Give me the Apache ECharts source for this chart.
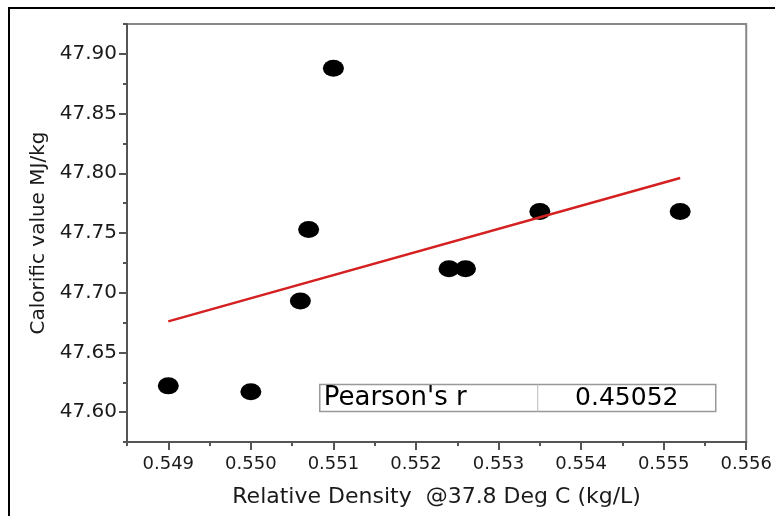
<!DOCTYPE html>
<html>
<head>
<meta charset="utf-8">
<script src="https://cdn.jsdelivr.net/npm/echarts@6/dist/echarts.min.js"></script>
<style>
  html, body { margin: 0; padding: 0; background: #fff; }
  #chart { width: 775px; height: 516px; }
</style>
</head>
<body>
<div id="chart"></div>
<script>
  // data
  var density = [0.549, 0.550, 0.5506, 0.5507, 0.551, 0.5524, 0.5526, 0.5535, 0.5552];
  var calorific = [47.622, 47.617, 47.693, 47.753, 47.888, 47.720, 47.720, 47.768, 47.768];
  var fitX = [0.549, 0.5552];
  var fitY = [47.676, 47.796];
  var xTicks = [0.549, 0.550, 0.551, 0.552, 0.553, 0.554, 0.555, 0.556];
  var xMinorTicks = [0.5485, 0.5495, 0.5505, 0.5515, 0.5525, 0.5535, 0.5545, 0.5555];
  var yTicks = [47.60, 47.65, 47.70, 47.75, 47.80, 47.85, 47.90];
  var yMinorTicks = [47.575, 47.625, 47.675, 47.725, 47.775, 47.825, 47.875, 47.925];
  var statLabel = "Pearson's r";
  var statValue = '0.45052';

  var font = '"DejaVu Sans", "Liberation Sans", Arial, sans-serif';
  var textColor = '#1a1a1a';
  var axisColor = '#555';

  var points = density.map(function (x, i) { return [x, calorific[i]]; });
  var fitLine = fitX.map(function (x, i) { return [x, fitY[i]]; });

  var myChart = echarts.init(document.getElementById('chart'));
  var option = {
    backgroundColor: '#fff',
    animation: false,
    grid: {
      left: 127, right: 26, top: 24, bottom: 74,
      show: true, borderColor: '#888', borderWidth: 2, backgroundColor: 'transparent'
    },
    xAxis: [
      {
        type: 'value', min: 0.5485, max: 0.556, position: 'bottom',
        name: 'Relative Density  @37.8 Deg C (kg/L)', nameLocation: 'middle', nameGap: 44,
        nameTextStyle: { fontFamily: font, fontSize: 22, color: textColor },
        axisLine: { show: true, onZero: false, lineStyle: { color: axisColor, width: 2 } },
        axisTick: { show: true, customValues: xTicks, length: 8, lineStyle: { color: axisColor, width: 2 } },
        axisLabel: {
          customValues: xTicks, margin: 13, fontFamily: font, fontSize: 18, color: textColor,
          formatter: function (v) { return v.toFixed(3); }
        },
        splitLine: { show: false }
      },
      {
        type: 'value', min: 0.5485, max: 0.556, position: 'bottom', gridIndex: 0,
        axisLine: { show: false, onZero: false },
        axisTick: { show: true, customValues: xMinorTicks, length: 4, lineStyle: { color: axisColor, width: 2 } },
        axisLabel: { show: false },
        splitLine: { show: false }
      }
    ],
    yAxis: [
      {
        type: 'value', min: 47.575, max: 47.925, position: 'left',
        name: 'Calorific value MJ/kg', nameLocation: 'middle', nameGap: 75,
        nameTextStyle: { fontFamily: font, fontSize: 20, color: textColor },
        axisLine: { show: true, onZero: false, lineStyle: { color: axisColor, width: 2 } },
        axisTick: { show: true, customValues: yTicks, length: 8, lineStyle: { color: axisColor, width: 2 } },
        axisLabel: {
          customValues: yTicks, margin: 10, fontFamily: font, fontSize: 20, color: textColor,
          formatter: function (v) { return v.toFixed(2); }
        },
        splitLine: { show: false }
      },
      {
        type: 'value', min: 47.575, max: 47.925, position: 'left', gridIndex: 0,
        axisLine: { show: false, onZero: false },
        axisTick: { show: true, customValues: yMinorTicks, length: 4, lineStyle: { color: axisColor, width: 2 } },
        axisLabel: { show: false },
        splitLine: { show: false }
      }
    ],
    series: [
      {
        name: 'data',
        type: 'scatter',
        xAxisIndex: 0, yAxisIndex: 0,
        symbol: 'circle',
        symbolSize: [21, 17],
        itemStyle: { color: '#000', opacity: 1 },
        data: points,
        z: 2
      },
      {
        name: 'fit',
        type: 'line',
        xAxisIndex: 0, yAxisIndex: 0,
        showSymbol: false,
        lineStyle: { color: '#d42020', width: 2.5 },
        data: fitLine,
        z: 3
      }
    ],
    graphic: [
      {
        // outer frame (left and top only, as in the picture)
        type: 'polyline',
        shape: { points: [[9, 516], [9, 8], [775, 8]] },
        style: { stroke: '#000', lineWidth: 2, fill: null },
        silent: true
      },
      {
        type: 'group',
        left: 319, top: 382,
        children: [
          { type: 'rect', shape: { x: 0, y: 0, width: 396, height: 27 },
            style: { fill: '#fff', stroke: '#999', lineWidth: 1.5 } },
          { type: 'line', shape: { x1: 218, y1: 0, x2: 218, y2: 27 },
            style: { stroke: '#bbb', lineWidth: 1 } },
          { type: 'text', x: 4, y: 14,
            style: { text: statLabel, font: '26px ' + font, fill: '#000', verticalAlign: 'middle', align: 'left' } },
          { type: 'text', x: 307, y: 14,
            style: { text: statValue, font: '25px ' + font, fill: '#000', verticalAlign: 'middle', align: 'center' } }
        ]
      }
    ]
  };
  myChart.setOption(option);
</script>
</body>
</html>
